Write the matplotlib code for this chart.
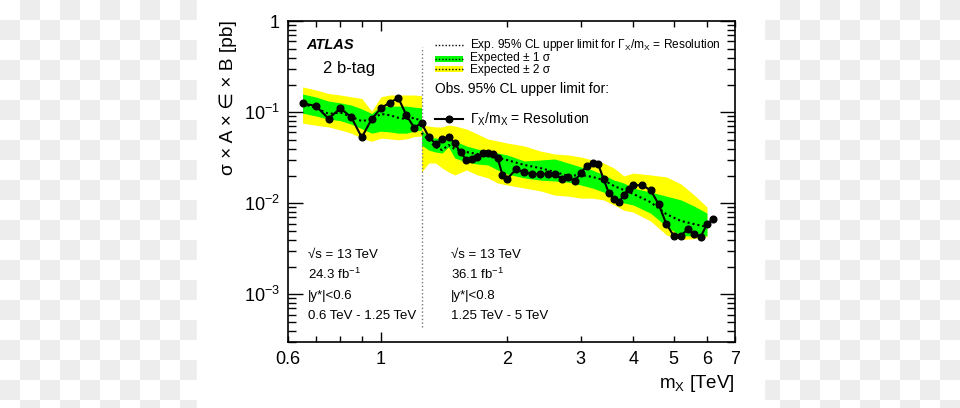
import numpy as np
import matplotlib.pyplot as plt
from matplotlib.colors import ListedColormap
from matplotlib.patches import Rectangle
from matplotlib.ticker import LogLocator, NullFormatter

plt.rcParams['font.family'] = ['Liberation Sans', 'DejaVu Sans']
plt.rcParams['mathtext.fontset'] = 'custom'
plt.rcParams['mathtext.rm'] = 'Liberation Sans'
plt.rcParams['mathtext.it'] = 'Liberation Sans:italic'
plt.rcParams['mathtext.bf'] = 'Liberation Sans:bold'
plt.rcParams['mathtext.default'] = 'regular'

# observed limit [pb] vs m_X [TeV]
mass_obs = [0.65, 0.70, 0.75, 0.80, 0.85, 0.90, 0.95, 1.00, 1.05, 1.10, 1.15, 1.20, 1.25,
            1.30, 1.35, 1.40, 1.45, 1.50, 1.55, 1.60, 1.65, 1.70, 1.75, 1.80, 1.85, 1.90, 1.95,
            2.0, 2.1, 2.2, 2.3, 2.4, 2.5, 2.6, 2.7, 2.8, 2.9, 3.0, 3.1, 3.2, 3.3, 3.4, 3.5,
            3.6, 3.7, 3.8, 3.9, 4.0, 4.2, 4.4, 4.6, 4.8, 5.0, 5.2, 5.4, 5.6, 5.8, 6.0, 6.2]
obs = [0.126, 0.117, 0.085, 0.111, 0.088, 0.053, 0.084, 0.111, 0.128, 0.144, 0.093, 0.068, 0.076,
       0.054, 0.045, 0.0505, 0.054, 0.0457, 0.0363, 0.0299, 0.0305, 0.0325, 0.0354, 0.0360, 0.0348, 0.0312, 0.0205,
       0.0185, 0.0236, 0.0219, 0.0208, 0.0211, 0.0210, 0.0208, 0.0187, 0.0193, 0.0177, 0.0214, 0.0260, 0.0279, 0.0268, 0.0185, 0.0129,
       0.0112, 0.0103, 0.0123, 0.0143, 0.0158, 0.0158, 0.0140, 0.0098, 0.0059, 0.0044, 0.0044, 0.0052, 0.0046, 0.0043, 0.0059, 0.0067]

# expected, low mass (24.3 fb-1)
mass_lo = [0.65, 0.70, 0.75, 0.80, 0.85, 0.90, 0.95, 1.00, 1.05, 1.10, 1.15, 1.20, 1.25]
exp_lo = [0.123, 0.112, 0.096, 0.0995, 0.089, 0.080, 0.084, 0.096, 0.093, 0.087, 0.084, 0.087, 0.080]
p1_lo = [0.159, 0.147, 0.133, 0.127, 0.120, 0.109, 0.097, 0.117, 0.117, 0.117, 0.117, 0.114, 0.112]
m1_lo = [0.098, 0.091, 0.084, 0.081, 0.074, 0.066, 0.059, 0.062, 0.061, 0.059, 0.059, 0.062, 0.064]
p2_lo = [0.190, 0.176, 0.161, 0.155, 0.148, 0.142, 0.103, 0.148, 0.155, 0.155, 0.155, 0.155, 0.152]
m2_lo = [0.076, 0.072, 0.069, 0.064, 0.059, 0.052, 0.048, 0.052, 0.051, 0.050, 0.051, 0.054, 0.055]

# expected, high mass (36.1 fb-1)
mass_hi = [1.25, 1.30, 1.35, 1.40, 1.45, 1.50, 1.60, 1.70, 1.80, 1.90, 2.0, 2.2, 2.4,
           2.6, 2.8, 3.0, 3.2, 3.4, 3.6, 3.8, 4.0, 4.4, 4.8, 5.2, 5.6, 6.0]
exp_hi = [0.0592, 0.0496, 0.0416, 0.0385, 0.0437, 0.0395, 0.0366, 0.0348, 0.0331, 0.0315, 0.0299, 0.0264, 0.0244,
          0.0221, 0.0200, 0.0205, 0.0195, 0.0180, 0.0155, 0.0140, 0.0127, 0.0103, 0.0076, 0.0064, 0.0059, 0.0055]
p1_hi = [0.0639, 0.0535, 0.0522, 0.0509, 0.0496, 0.0484, 0.0426, 0.0395, 0.0376, 0.0357, 0.0340, 0.0292, 0.0299,
         0.0307, 0.0277, 0.0251, 0.0232, 0.0205, 0.0180, 0.0167, 0.0147, 0.0133, 0.0120, 0.0109, 0.0093, 0.0078]
m1_hi = [0.0437, 0.0385, 0.0366, 0.0357, 0.0416, 0.0315, 0.0284, 0.0270, 0.0264, 0.0232, 0.0210, 0.0190, 0.0180,
         0.0176, 0.0171, 0.0159, 0.0147, 0.0133, 0.0111, 0.0101, 0.0096, 0.0078, 0.0056, 0.0044, 0.0044, 0.0044]
p2_hi = [0.0725, 0.0707, 0.0690, 0.0690, 0.0725, 0.0707, 0.0655, 0.0577, 0.0509, 0.0484, 0.0460, 0.0426, 0.0376,
         0.0348, 0.0340, 0.0323, 0.0299, 0.0277, 0.0244, 0.0200, 0.0215, 0.0205, 0.0195, 0.0163, 0.0123, 0.0091]
m2_hi = [0.0221, 0.0277, 0.0277, 0.0244, 0.0221, 0.0205, 0.0232, 0.0205, 0.0190, 0.0167, 0.0159, 0.0147, 0.0137,
         0.0123, 0.0120, 0.0114, 0.0114, 0.0109, 0.0096, 0.0084, 0.0080, 0.0064, 0.0045, 0.0040, 0.0041, 0.0043]

x_minor = [0.6, 0.7, 0.8, 0.9, 2, 3, 4, 5, 6, 7]
x_minor_lab = ['0.6', '', '', '', '2', '3', '4', '5', '6', '7']

yellow = '#ffff00'
green = '#00ff00'
dots = (0, (1, 1.4))

fig = plt.figure(figsize=(9.6, 4.08), dpi=100)

# checkerboard backdrop with white card
bg = fig.add_axes([0, 0, 1, 1])
bg.axis('off')
chk = np.indices((21, 48)).sum(axis=0) % 2
bg.imshow(chk, cmap=ListedColormap(['white', '#ededed']), extent=(0, 960, 420, 0),
          interpolation='nearest', aspect='auto')
bg.add_patch(Rectangle((197, 0), 567, 408, color='white'))
bg.set_xlim(0, 960)
bg.set_ylim(408, 0)

ax = fig.add_axes([288 / 960, (408 - 342.3) / 408, 447 / 960, 321 / 408])
ax.set_xscale('log')
ax.set_yscale('log')

for m, p2, m2, p1, m1, e in [(mass_lo, p2_lo, m2_lo, p1_lo, m1_lo, exp_lo),
                             (mass_hi, p2_hi, m2_hi, p1_hi, m1_hi, exp_hi)]:
    ax.fill_between(m, m2, p2, color=yellow, lw=0)
    ax.fill_between(m, m1, p1, color=green, lw=0)
    ax.plot(m, e, color='black', ls=dots, lw=1.5)

ax.axvline(1.25, ymin=0.048, ymax=0.92, color='#777777', ls=':', lw=1)
ax.plot(mass_obs, obs, color='black', lw=1.5, marker='o', ms=4.8)

ax.set_xlim(0.6, 7)
ax.set_ylim(2.97e-4, 1)

ax.set_xticks([1], labels=['1'])
ax.set_xticks(x_minor, labels=x_minor_lab, minor=True)
ax.set_yticks([1e-3, 1e-2, 1e-1, 1], labels=['$10^{-3}$', '$10^{-2}$', '$10^{-1}$', '1'])
ax.yaxis.set_minor_locator(LogLocator(base=10, subs=np.arange(2, 10)))
ax.yaxis.set_minor_formatter(NullFormatter())

ax.tick_params(which='both', direction='in', top=True, right=True, labelsize=13, pad=6, width=1)
ax.tick_params(axis='x', which='major', length=7)
ax.tick_params(axis='x', which='minor', length=4)
ax.tick_params(axis='y', which='major', length=10.5)
ax.tick_params(axis='y', which='minor', length=5.5)
for s in ax.spines.values():
    s.set_linewidth(1.2)

# labels
fig.text(228 / 960, 1 - 20 / 408, 'σ × A × ∈ × B [pb]', rotation=90, ha='center', va='top', fontsize=13.8)
fig.text(735 / 960, 1 - 383 / 408, 'm$_{X}$ [TeV]', ha='right', va='center', fontsize=13.5)

ax.text(0.040, 0.926, 'ATLAS', transform=ax.transAxes, fontsize=10.5, fontweight='bold',
        fontstyle='italic', va='center')
ax.text(0.078, 0.854, '2 b-tag', transform=ax.transAxes, fontsize=12, va='center')

# legend
lx0, lx1, tx = 0.329, 0.392, 0.407
ax.plot([lx0, lx1], [0.926, 0.926], transform=ax.transAxes, color='black', ls=dots, lw=1)
ax.text(tx, 0.926, 'Exp. 95% CL upper limit for Γ$_{X}$/m$_{X}$ = Resolution', transform=ax.transAxes,
        fontsize=8.6, va='center')
ax.add_patch(Rectangle((lx0, 0.874), lx1 - lx0, 0.018, transform=ax.transAxes, color=green, lw=0))
ax.plot([lx0, lx1], [0.883, 0.883], transform=ax.transAxes, color='black', ls=dots, lw=1)
ax.text(tx, 0.885, 'Expected ± 1 σ', transform=ax.transAxes, fontsize=8.6, va='center')
ax.add_patch(Rectangle((lx0, 0.842), lx1 - lx0, 0.018, transform=ax.transAxes, color=yellow, lw=0))
ax.plot([lx0, lx1], [0.851, 0.851], transform=ax.transAxes, color='black', ls=dots, lw=1)
ax.text(tx, 0.849, 'Expected ± 2 σ', transform=ax.transAxes, fontsize=8.6, va='center')
ax.text(lx0, 0.788, 'Obs. 95% CL upper limit for:', transform=ax.transAxes, fontsize=10, va='center')
ax.plot([lx0, lx1], [0.695, 0.695], transform=ax.transAxes, color='black', lw=1.5)
ax.plot([(lx0 + lx1) / 2], [0.695], transform=ax.transAxes, color='black', marker='o', ms=4.8)
ax.text(tx, 0.695, 'Γ$_{X}$/m$_{X}$ = Resolution', transform=ax.transAxes, fontsize=10, va='center')

# dataset info
info_lo = ['√s = 13 TeV', '24.3 fb$^{-1}$', '|y*|<0.6', '0.6 TeV - 1.25 TeV']
info_hi = ['√s = 13 TeV', '36.1 fb$^{-1}$', '|y*|<0.8', '1.25 TeV - 5 TeV']
rows = [0.272, 0.210, 0.144, 0.082]
for yy, a, b in zip(rows, info_lo, info_hi):
    ax.text(0.045, yy, a, transform=ax.transAxes, fontsize=9.5, va='center')
    ax.text(0.365, yy, b, transform=ax.transAxes, fontsize=9.5, va='center')

fig.savefig('out.png', dpi=100)
